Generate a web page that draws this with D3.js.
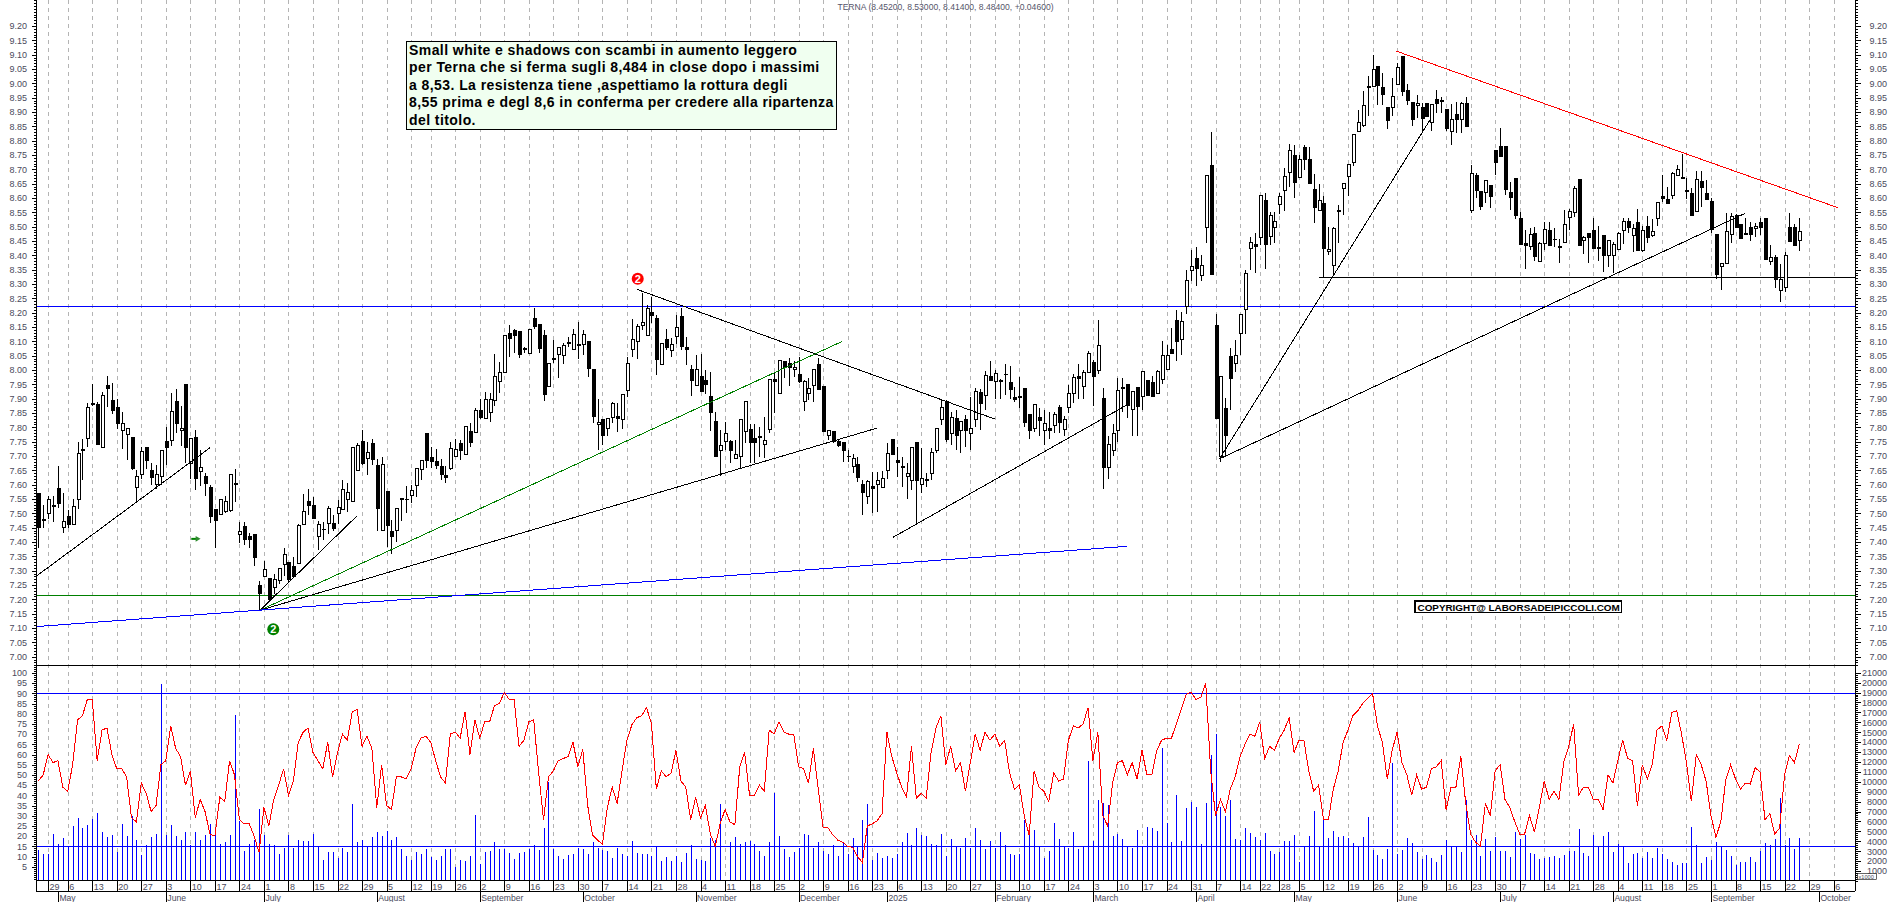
<!DOCTYPE html>
<html>
<head>
<meta charset="utf-8">
<title>TERNA</title>
<script src="https://d3js.org/d3.v7.min.js"></script>
<style>
  html, body { margin: 0; padding: 0; background: #fff; overflow: hidden; }
  svg { display: block; }
  text { font-family: "Liberation Sans", Arial, sans-serif; }
</style>
</head>
<body>
<svg id="chart" width="1890" height="902"></svg>
<script>
// daily bars, 25 Apr 2024 to 25 Sep 2025
const opens = [
7.57,7.475,7.50,7.525,7.585,7.45,7.49,7.46,7.55,7.72,
7.76,7.88,7.88,7.73,7.945,7.895,7.87,7.79,7.775,7.765,
7.59,7.635,7.73,7.65,7.60,7.63,7.75,7.755,7.89,7.79,
7.95,7.675,7.765,7.645,7.63,7.59,7.515,7.495,7.505,7.51,
7.605,7.425,7.455,7.42,7.425,7.25,7.28,7.273,7.242,7.265,
7.32,7.33,7.315,7.326,7.462,7.54,7.526,7.421,7.442,7.463,
7.465,7.498,7.514,7.547,7.541,7.651,7.75,7.691,7.742,7.666,
7.44,7.575,7.435,7.44,7.551,7.547,7.563,7.598,7.652,7.78,
7.695,7.68,7.665,7.633,7.655,7.698,7.742,7.707,7.784,7.783,
7.859,7.831,7.851,7.895,7.96,7.991,8.128,8.139,8.135,8.07,
8.058,8.178,8.159,8.122,7.942,8.035,8.055,8.051,8.097,8.072,
8.09,8.088,8.10,8.002,7.81,7.828,7.797,7.834,7.838,7.829,
7.928,8.072,8.10,8.156,8.119,8.201,8.178,8.02,8.107,8.069,
8.116,8.188,8.079,8.002,7.945,7.979,7.964,7.909,7.819,7.721,
7.75,7.752,7.691,7.698,7.785,7.793,7.76,7.769,7.741,7.794,
7.967,7.919,8.03,8.021,8.002,7.985,7.891,7.919,7.946,8.02,
7.944,7.773,7.784,7.749,7.747,7.70,7.663,7.671,7.602,7.558,
7.592,7.602,7.59,7.649,7.756,7.684,7.66,7.628,7.613,7.748,
7.601,7.619,7.64,7.721,7.828,7.889,7.78,7.832,7.79,7.826,
7.78,7.828,7.922,7.912,7.977,7.96,7.96,7.984,7.957,7.905,
7.906,7.936,7.846,7.797,7.835,7.79,7.797,7.806,7.87,7.793,
7.869,7.919,7.978,7.942,7.992,8.025,7.998,7.899,7.66,7.72,
7.79,7.938,7.948,7.864,7.94,7.907,7.965,7.957,7.919,7.968,
8.003,8.073,8.171,8.107,8.223,8.347,8.39,8.33,8.497,8.712,
8.154,7.70,7.866,8.047,8.021,8.128,8.212,8.423,8.438,8.463,
8.59,8.465,8.498,8.578,8.626,8.689,8.747,8.672,8.777,8.735,
8.63,8.557,8.581,8.414,8.366,8.553,8.634,8.674,8.723,8.831,
8.852,8.987,8.989,9.057,8.987,8.916,8.916,8.997,9.094,8.976,
8.934,8.923,8.916,8.93,8.863,8.944,8.94,8.909,8.831,8.893,
8.874,8.928,8.558,8.68,8.623,8.619,8.645,8.767,8.781,8.778,
8.62,8.667,8.529,8.44,8.43,8.477,8.378,8.442,8.488,8.455,
8.432,8.444,8.533,8.549,8.663,8.453,8.477,8.485,8.426,8.47,
8.399,8.4,8.421,8.487,8.519,8.47,8.515,8.417,8.501,8.47,
8.529,8.606,8.595,8.608,8.678,8.668,8.626,8.614,8.552,8.659,
8.616,8.588,8.471,8.36,8.372,8.473,8.539,8.506,8.471,8.498,
8.495,8.515,8.529,8.378,8.391,8.279,8.287,8.498,8.498,8.452];

const highs = [
7.57,7.53,7.56,7.56,7.665,7.57,7.51,7.55,7.75,7.76,
7.885,7.95,7.89,7.925,7.98,7.955,7.90,7.855,7.795,7.765,
7.65,7.73,7.73,7.675,7.67,7.72,7.80,7.92,7.935,7.875,
7.95,7.76,7.79,7.72,7.64,7.60,7.515,7.55,7.56,7.635,
7.655,7.47,7.47,7.43,7.425,7.265,7.335,7.275,7.29,7.308,
7.38,7.33,7.347,7.463,7.568,7.585,7.558,7.475,7.471,7.526,
7.494,7.547,7.616,7.605,7.733,7.745,7.79,7.75,7.76,7.69,
7.698,7.575,7.477,7.516,7.553,7.595,7.599,7.657,7.685,7.78,
7.733,7.725,7.69,7.665,7.748,7.76,7.755,7.802,7.815,7.866,
7.90,7.922,7.919,8.056,8.029,8.121,8.157,8.144,8.135,8.08,
8.142,8.216,8.159,8.14,8.023,8.105,8.081,8.093,8.116,8.144,
8.166,8.14,8.10,8.002,7.898,7.828,7.83,7.89,7.885,7.915,
8.047,8.177,8.16,8.27,8.227,8.256,8.192,8.093,8.142,8.11,
8.192,8.215,8.115,8.018,8.052,8.056,8.0,7.992,7.855,7.79,
7.818,7.755,7.755,7.828,7.891,7.81,7.81,7.80,7.835,7.968,
7.988,8.033,8.033,8.041,8.03,8.047,7.965,7.971,8.005,8.041,
7.944,7.79,7.784,7.755,7.75,7.72,7.706,7.698,7.616,7.616,
7.645,7.645,7.649,7.744,7.756,7.733,7.698,7.675,7.733,7.748,
7.727,7.64,7.727,7.797,7.896,7.895,7.855,7.86,7.82,7.843,
7.907,7.936,7.933,7.998,8.031,7.999,7.97,8.02,8.014,7.94,
7.975,7.936,7.846,7.881,7.866,7.86,7.855,7.855,7.878,7.838,
7.948,7.987,8.02,8.0,8.066,8.035,8.175,7.936,7.77,7.81,
7.971,7.971,7.948,7.925,7.94,7.994,7.965,7.98,8.0,8.101,
8.087,8.145,8.209,8.201,8.349,8.419,8.428,8.40,8.677,8.829,
8.196,7.977,7.901,8.076,8.105,8.194,8.349,8.465,8.477,8.608,
8.616,8.55,8.55,8.617,8.704,8.787,8.785,8.75,8.785,8.777,
8.683,8.65,8.607,8.498,8.50,8.576,8.651,8.717,8.822,8.907,
8.973,9.024,9.099,9.057,9.035,8.916,9.018,9.07,9.094,8.996,
8.934,8.96,8.93,8.93,8.926,8.977,8.954,8.909,8.928,8.936,
8.936,8.951,8.715,8.686,8.623,8.662,8.645,8.767,8.843,8.778,
8.655,8.667,8.552,8.49,8.494,8.50,8.445,8.517,8.516,8.494,
8.456,8.558,8.562,8.642,8.663,8.467,8.477,8.529,8.502,8.47,
8.452,8.447,8.483,8.532,8.532,8.51,8.562,8.502,8.537,8.526,
8.585,8.679,8.64,8.692,8.715,8.753,8.669,8.634,8.694,8.694,
8.663,8.6,8.471,8.371,8.547,8.547,8.544,8.506,8.53,8.517,
8.512,8.529,8.529,8.436,8.40,8.37,8.412,8.547,8.509,8.53];

const lows = [
7.38,7.45,7.48,7.47,7.52,7.43,7.45,7.46,7.515,7.615,
7.73,7.875,7.74,7.73,7.87,7.845,7.795,7.725,7.685,7.65,
7.54,7.62,7.655,7.60,7.585,7.60,7.67,7.735,7.78,7.735,
7.675,7.62,7.58,7.595,7.56,7.465,7.38,7.495,7.50,7.505,
7.54,7.395,7.39,7.38,7.315,7.163,7.28,7.20,7.22,7.255,
7.28,7.26,7.274,7.326,7.462,7.494,7.481,7.372,7.407,7.428,
7.44,7.463,7.51,7.506,7.541,7.651,7.67,7.634,7.67,7.438,
7.44,7.384,7.358,7.40,7.475,7.50,7.535,7.558,7.616,7.657,
7.657,7.655,7.616,7.605,7.65,7.695,7.686,7.707,7.73,7.78,
7.828,7.831,7.82,7.876,7.919,7.989,8.046,8.058,8.041,8.06,
8.058,8.142,8.06,7.892,7.942,8.026,7.973,8.021,8.08,8.07,
8.04,8.052,7.977,7.816,7.721,7.738,7.77,7.815,7.785,7.794,
7.907,8.047,8.038,8.14,8.117,8.165,7.983,8.02,8.07,8.047,
8.09,8.07,8.018,7.91,7.945,7.923,7.918,7.788,7.698,7.63,
7.72,7.675,7.691,7.654,7.745,7.675,7.677,7.698,7.692,7.78,
7.85,7.916,7.971,7.945,7.977,7.955,7.858,7.895,7.89,7.93,
7.787,7.756,7.745,7.73,7.68,7.68,7.64,7.61,7.494,7.533,
7.50,7.506,7.59,7.619,7.704,7.626,7.593,7.549,7.58,7.463,
7.57,7.593,7.616,7.71,7.808,7.75,7.74,7.72,7.71,7.73,
7.72,7.80,7.79,7.86,7.96,7.9,7.9,7.913,7.9,7.89,
7.866,7.80,7.76,7.785,7.77,7.74,7.76,7.78,7.78,7.77,
7.85,7.884,7.9,7.9,7.99,7.874,7.985,7.585,7.62,7.70,
7.75,7.855,7.832,7.77,7.77,7.86,7.91,7.907,7.919,7.952,
8.003,8.058,8.033,8.052,8.195,8.312,8.293,8.312,8.444,8.333,
7.832,7.68,7.70,7.86,7.994,8.052,8.125,8.349,8.34,8.436,
8.354,8.436,8.442,8.544,8.553,8.64,8.601,8.672,8.696,8.651,
8.514,8.553,8.326,8.40,8.334,8.442,8.541,8.607,8.712,8.831,
8.846,8.886,8.989,8.925,8.925,8.84,8.886,8.997,8.957,8.925,
8.851,8.878,8.835,8.884,8.832,8.895,8.895,8.832,8.785,8.826,
8.826,8.849,8.548,8.599,8.558,8.581,8.566,8.68,8.744,8.61,
8.558,8.526,8.437,8.354,8.418,8.382,8.378,8.419,8.436,8.43,
8.374,8.444,8.488,8.535,8.433,8.405,8.374,8.423,8.38,8.343,
8.36,8.34,8.421,8.44,8.477,8.413,8.415,8.413,8.442,8.465,
8.502,8.587,8.581,8.595,8.678,8.668,8.595,8.54,8.552,8.57,
8.595,8.479,8.316,8.279,8.372,8.444,8.494,8.456,8.471,8.451,
8.465,8.47,8.384,8.365,8.287,8.238,8.273,8.448,8.436,8.414];

const closes = [
7.45,7.48,7.55,7.527,7.533,7.47,7.46,7.525,7.71,7.723,
7.87,7.883,7.74,7.91,7.935,7.86,7.815,7.815,7.795,7.655,
7.63,7.715,7.685,7.625,7.635,7.72,7.73,7.855,7.815,7.795,
7.73,7.76,7.62,7.66,7.605,7.49,7.475,7.55,7.54,7.635,
7.60,7.435,7.41,7.41,7.345,7.219,7.305,7.20,7.268,7.308,
7.357,7.268,7.28,7.456,7.508,7.528,7.481,7.462,7.444,7.518,
7.447,7.519,7.584,7.573,7.729,7.738,7.675,7.714,7.688,7.517,
7.669,7.458,7.421,7.516,7.548,7.549,7.581,7.657,7.685,7.686,
7.68,7.666,7.634,7.626,7.727,7.724,7.721,7.802,7.747,7.86,
7.835,7.898,7.898,7.979,7.991,8.121,8.11,8.12,8.054,8.076,
8.142,8.151,8.076,7.915,8.023,8.04,8.079,8.086,8.091,8.123,
8.086,8.123,8.005,7.837,7.817,7.771,7.83,7.884,7.83,7.915,
8.023,8.107,8.152,8.165,8.215,8.19,8.035,8.093,8.078,8.09,
8.149,8.081,8.07,7.963,8.002,7.925,7.95,7.851,7.698,7.737,
7.779,7.719,7.705,7.828,7.891,7.747,7.747,7.765,7.753,7.968,
7.959,8.033,8.008,8.009,8.009,7.959,7.96,7.935,8.002,7.933,
7.787,7.788,7.752,7.736,7.718,7.698,7.69,7.625,7.572,7.61,
7.587,7.616,7.621,7.709,7.704,7.679,7.662,7.64,7.73,7.614,
7.622,7.614,7.713,7.797,7.869,7.756,7.834,7.77,7.82,7.79,
7.797,7.925,7.884,7.982,7.963,7.989,7.965,7.986,7.932,7.898,
7.904,7.816,7.79,7.881,7.823,7.814,7.79,7.845,7.816,7.828,
7.919,7.975,7.97,7.992,8.058,7.977,8.087,7.66,7.74,7.78,
7.93,7.936,7.876,7.925,7.872,7.994,7.91,7.907,7.994,8.049,
8.051,8.058,8.099,8.17,8.313,8.362,8.354,8.365,8.677,8.333,
7.832,7.977,7.77,7.97,8.051,8.194,8.337,8.444,8.43,8.608,
8.437,8.54,8.519,8.605,8.675,8.765,8.654,8.735,8.735,8.651,
8.566,8.592,8.423,8.421,8.494,8.556,8.651,8.717,8.822,8.864,
8.923,8.99,9.049,8.992,8.962,8.87,8.955,9.056,8.971,8.94,
8.873,8.93,8.877,8.884,8.926,8.93,8.938,8.842,8.874,8.874,
8.93,8.849,8.686,8.626,8.572,8.662,8.605,8.723,8.744,8.628,
8.601,8.539,8.437,8.436,8.471,8.395,8.442,8.491,8.436,8.457,
8.428,8.509,8.552,8.634,8.433,8.463,8.462,8.423,8.424,8.399,
8.452,8.437,8.477,8.517,8.498,8.494,8.417,8.487,8.462,8.483,
8.585,8.597,8.581,8.686,8.70,8.67,8.624,8.54,8.665,8.636,
8.595,8.491,8.333,8.371,8.483,8.535,8.497,8.459,8.477,8.471,
8.502,8.497,8.384,8.393,8.315,8.317,8.398,8.448,8.436,8.484];

const oscillator = [
47,50,60,56,57,44,42,55,77,79,
87,87,57,72,73,60,53,53,49,29,
27,46,41,32,35,55,57,74,63,59,
45,52,29,38,32,21,20,39,37,57,
50,28,26,26,20,12,34,25,38,45,
53,40,47,66,71,73,61,57,53,66,
49,61,70,67,81,82,64,69,63,34,
55,35,33,49,49,48,53,63,68,69,
66,57,49,46,70,71,68,81,60,77,
68,76,76,84,85,90.5,87,87,64,67,
76,77,51,28,49,52,57,58,59,66,
54,62.5,35,20.5,18,16,34,44,36,52,
67,74.5,78,79,83,75,43,52,49,51,
62,47,44,28,39,29,35,21,15,26,
33,27,25.5,54,61,40,40,45,42,72,
70,76,71,70,70,54,53,46,63,43,
24,24,20.5,18,17,15,14.5,10,7,25,
26,27.5,31,71,59,51,44,39,64,38.5,
41,38.5,61,73,79,55,64,52,56,42,
56,70,62,71,67,70,64,67,51,43,
45,30,20.5,52,44,42,37,51,47,48,
67,74,73,75,83,57,71,30,25,46,
56,57,50,56,48,62,50,50,62,67,
68,68,75,82,89.5,90.5,87,88,95,52,
30,38,32,43,49,59,65,70,69,76,
58,64,62,68,72,78,61,67,67,52,
42,45,28,28,43,52,66,72,79,81.5,
85,87.5,90,74,66,48,62,71,56,50,
40,50,43,44,53,54,57,33,44,44,
59,36,21,17,15,36,30,52,55,38,
34,27,21,21,30,22,34,47,38,42,
38,56.5,64,75,40,44,44,38,38,33,
50,46,57,67,58,57,35,55,48,55,
72,74,67,80.5,81.5,70,56,37,60,55,
47,30,19.5,27,47.5,55,48,43,46,45.5,
53.5,51.5,28,31,21,24,50,59.5,56,65];

// volume in thousands
const volume = [
3.1,2.7,2.7,4.7,3.7,4.3,3.5,5.5,6.3,5.3,
5.6,6.2,6.8,4.9,4.4,4.6,2.9,5.7,4.5,6.5,
4.1,2.6,3.6,4.4,4.7,19.9,4.6,5.6,4.5,4.1,
4.9,3.6,4.9,4.1,4.6,5.7,5.4,3.7,3.9,4.6,
16.7,6,3,3.7,4.1,7.3,4.6,3.7,3.6,2.7,
3.3,4.6,3.3,4.1,4,4,4.7,3.5,2.1,2.9,
2.9,2.3,3.3,2.9,7.8,3.9,4.1,3.5,4.4,4.9,
4.5,5,4.1,4.4,3.2,2.5,2.1,2.9,2.7,3.2,
2.4,2.1,2.5,3.2,3.2,1.4,2.1,2,2.5,6.6,
1.7,2.9,3,3.9,3.2,3.2,2.8,2.2,2.8,2.9,
3.2,3.6,3.1,5.3,10,3.2,2.5,2.2,2.6,2.7,
3.3,3.2,2.7,3.9,3.3,3.1,3,2.3,3.3,2.7,
2.5,4,2.8,2.7,2.7,2.5,3.5,2,2.4,2,
2.5,1.9,2.8,3.6,2.2,2.1,2,4.3,4.1,7.8,
0,3.9,4.4,3.7,3.9,4,3.7,3,2.5,3.9,
8.9,4.5,3.2,2.4,2.9,3.3,4.7,4.6,3.3,3.9,
3,2.7,3.6,2.5,3.9,2.7,4.3,3.4,6.1,7.8,
2.1,2.8,2.3,2.5,2.3,2.7,3.9,4.8,3.6,5.3,
4.6,4.5,3.7,3.6,4.7,2.5,4.2,3.5,3.3,4.3,
3.3,5.3,4.1,3.2,4,3.3,4.9,3.6,2.7,2.6,
2.7,6.1,5.5,5.1,3.5,2.3,3,5.8,4.2,3.5,
3.3,4.9,3.2,3.5,12.1,4,8.2,7.9,7.7,4.5,
4.7,4.2,3.5,3.3,5.1,3.5,5.4,5.3,5,13.4,
5.8,3.9,8.7,4,7.4,8,7.5,3.7,7.9,12.7,
14.8,7.5,6.5,8.2,4.2,4.1,5.3,4.8,4.4,4.1,
4.8,3,2.7,2.9,4,4,4.6,1.9,3.5,4.5,
7.1,3.5,6.2,4.3,5,4.4,4.5,4.3,3.8,3.5,
4.4,6.4,3.1,2.6,2.2,3.2,11.9,2.7,3.1,4.3,
3.8,2.9,2.2,2.6,2.3,1.9,2.6,4.1,3.5,3.5,
2.9,8.2,4.1,4.6,2.5,4.2,3,4.4,3,3,
2.4,4.9,4.2,4.6,2.8,2.7,2.2,2.35,2.4,2.5,
2.3,2.6,3,3,5.2,2.8,2.5,4.6,3.5,4.5,
4.9,2.9,3.7,3.4,1.8,2.7,2.8,2.3,2.9,2.3,
3.3,2.7,2.2,1.9,1.6,1.8,1.8,5.4,3.6,1.8,
2.4,2.1,3.9,3.5,3.1,2.5,1.6,1.9,1.9,2.4,
1.9,3,3.8,3.6,4.2,8.4,3.6,4.3,3.2,4.3];

// market holidays, and the one week the chart leaves unmarked
const holidays = ["2024-05-01","2024-08-15","2024-12-24","2024-12-25","2024-12-26","2024-12-31","2025-01-01","2025-04-18","2025-04-21","2025-05-01","2025-08-15"];
const unmarkedWeeks = ["2024-12-30"];
const monthNames = ["2025","February","March","April","May","June","July","August","September","October","November","December"];

// trend lines as [bar index, price] pairs
const trendLines = [
  { color: "#000", from: [-0.5, 7.28], to: [35, 7.729] },
  { color: "#000", from: [45.2, 7.162], to: [64.9, 7.49] },
  { color: "#008000", from: [45.2, 7.162], to: [163.9, 8.10] },
  { color: "#000", from: [45.2, 7.162], to: [170.9, 7.797] },
  { color: "#0000ff", from: [-0.5, 7.105], to: [222, 7.385] },
  { color: "#000", from: [122.1, 8.281], to: [195, 7.829] },
  { color: "#000", from: [174.2, 7.416], to: [221.9, 7.878] },
  { color: "#000", from: [240.8, 7.69], to: [283.7, 8.872] },
  { color: "#000", from: [240.8, 7.69], to: [348, 8.547] },
  { color: "#ff0000", from: [276.9, 9.112], to: [366.9, 8.566] }
];
const priceLevels = [
  { color: "#0000ff", price: 8.222, fromBar: -0.5 },
  { color: "#008000", price: 7.216, fromBar: -0.5 },
  { color: "#000", price: 8.323, fromBar: 261 }
];
const oscLevels = [90, 15];

const noteLines = [
  "Small white e shadows con scambi in aumento leggero",
  "per Terna che si ferma sugli 8,484 in close dopo i massimi",
  "a 8,53. La resistenza tiene ,aspettiamo la rottura degli",
  "8,55 prima e degl 8,6 in conferma per credere alla ripartenza",
  "del titolo."
];
const titleText = "TERNA (8.45200, 8.53000, 8.41400, 8.48400, +0.04600)";
const copyrightText = "COPYRIGHT@ LABORSADEIPICCOLI.COM";

const leftX = 36, rightX = 1855, lastBarX = 1799.3, firstBarX = 38.3;
const axisText = "#4a4a5c";

const bars = opens.map((o, i) => ({ i, o, h: highs[i], l: lows[i], c: closes[i], osc: oscillator[i], vol: volume[i] }));

const x = d3.scaleLinear().domain([0, bars.length - 1]).range([firstBarX, lastBarX]);
const yPrice = d3.scaleLinear().domain([7.0, 9.2]).range([656.7, 26]);
const yOsc = d3.scaleLinear().domain([15, 90]).range([846.3, 693.3]);
const yVol = d3.scaleLinear().domain([0, 21]).range([880.9, 672.7]);

const pix = v => Math.round(v) + 0.5;

// trading calendar, running a little past the last bar for the empty right edge
const fmt = d3.timeFormat("%Y-%m-%d");
const calendar = d3.timeDay.range(new Date(2024, 3, 25), new Date(2025, 9, 9))
  .filter(d => d.getDay() > 0 && d.getDay() < 6 && !holidays.includes(fmt(d)));

const weekStarts = [], monthStarts = [];
calendar.forEach((d, i) => {
  if (i === 0) return;
  const prev = calendar[i - 1];
  if (d3.timeMonday.floor(d).getTime() !== d3.timeMonday.floor(prev).getTime() && !unmarkedWeeks.includes(fmt(d))) {
    weekStarts.push({ i, label: d.getDate() });
  }
  if (d.getMonth() !== prev.getMonth()) {
    monthStarts.push({ i, label: d.getMonth() === 0 ? monthNames[0] : monthNames[d.getMonth()] });
  }
});

const svg = d3.select("#chart");

// weekly grid
svg.append("g").selectAll("line").data(weekStarts).join("line")
  .attr("x1", d => pix(x(d.i))).attr("x2", d => pix(x(d.i)))
  .attr("y1", 0).attr("y2", 880)
  .attr("stroke", "#b4b4b4").attr("stroke-dasharray", "4,4")
  .attr("shape-rendering", "crispEdges");

// volume bars
svg.append("g").selectAll("line").data(bars.filter(d => d.vol > 0)).join("line")
  .attr("x1", d => pix(x(d.i))).attr("x2", d => pix(x(d.i)))
  .attr("y1", yVol(0)).attr("y2", d => yVol(d.vol))
  .attr("stroke", "#0000ff").attr("shape-rendering", "crispEdges");

// horizontal levels
svg.append("g").selectAll("line").data(priceLevels).join("line")
  .attr("x1", d => Math.max(leftX, x(d.fromBar))).attr("x2", rightX)
  .attr("y1", d => pix(yPrice(d.price))).attr("y2", d => pix(yPrice(d.price)))
  .attr("stroke", d => d.color).attr("stroke-width", 1)
  .attr("shape-rendering", "crispEdges");

svg.append("g").selectAll("line").data(oscLevels).join("line")
  .attr("x1", leftX).attr("x2", rightX)
  .attr("y1", d => pix(yOsc(d))).attr("y2", d => pix(yOsc(d)))
  .attr("stroke", "#0000ff").attr("shape-rendering", "crispEdges");

// candles
const candles = svg.append("g").selectAll("g").data(bars).join("g");
candles.append("line")
  .attr("x1", d => pix(x(d.i))).attr("x2", d => pix(x(d.i)))
  .attr("y1", d => yPrice(d.h)).attr("y2", d => yPrice(d.l))
  .attr("stroke", "#000").attr("shape-rendering", "crispEdges");
candles.append("rect")
  .attr("x", d => pix(x(d.i)) - 1.5)
  .attr("width", 3)
  .attr("y", d => yPrice(Math.max(d.o, d.c)))
  .attr("height", d => Math.abs(yPrice(d.o) - yPrice(d.c)))
  .attr("fill", d => d.c >= d.o ? "#fff" : "#000")
  .attr("stroke", "#000").attr("shape-rendering", "crispEdges");

// trend lines
svg.append("g").selectAll("line").data(trendLines).join("line")
  .attr("x1", d => Math.max(leftX, x(d.from[0]))).attr("y1", d => yPrice(d.from[1]))
  .attr("x2", d => x(d.to[0])).attr("y2", d => yPrice(d.to[1]))
  .attr("stroke", d => d.color).attr("stroke-width", 1)
  .attr("shape-rendering", "crispEdges");

// oscillator
svg.append("path").datum(bars)
  .attr("d", d3.line().x(d => x(d.i)).y(d => yOsc(d.osc)))
  .attr("fill", "none").attr("stroke", "#ff0000").attr("stroke-width", 1)
  .attr("shape-rendering", "crispEdges");

// pane separators and date rows
const rules = [[leftX, rightX, 665.5, 1.4], [leftX, rightX, 880.5, 1], [leftX, rightX, 891.5, 1]];
svg.append("g").selectAll("line").data(rules).join("line")
  .attr("x1", d => d[0]).attr("x2", d => d[1]).attr("y1", d => d[2]).attr("y2", d => d[2])
  .attr("stroke", "#000").attr("stroke-width", d => d[3]).attr("shape-rendering", "crispEdges");

// axis helper: major ticks with labels, minor ticks without
function valueAxis(scale, side, majors, minors, format) {
  const at = side === "left" ? leftX : rightX;
  const make = side === "left" ? d3.axisLeft : d3.axisRight;
  const minor = svg.append("g").attr("transform", `translate(${at + 0.5},0)`)
    .call(make(scale).tickValues(minors).tickSize(2.5).tickFormat(""));
  const major = svg.append("g").attr("transform", `translate(${at + 0.5},0)`)
    .call(make(scale).tickValues(majors).tickSize(5).tickFormat(format));
  [minor, major].forEach(g => {
    g.select(".domain").remove();
    g.selectAll("line").attr("stroke", "#000").attr("shape-rendering", "crispEdges");
  });
  major.selectAll("text")
    .attr("font-size", 9).attr("fill", axisText)
    .attr("text-anchor", "end")
    .attr("x", side === "left" ? -9.5 : 1887 - at - 0.5);
}

const priceMajors = d3.range(700, 925, 5).map(v => v / 100);
const priceMinors = d3.range(697, 930, 1).map(v => v / 100);
valueAxis(yPrice, "left", priceMajors, priceMinors, d3.format(".2f"));
valueAxis(yPrice, "right", priceMajors, priceMinors, d3.format(".2f"));

const oscMajors = d3.range(5, 105, 5);
const oscMinors = d3.range(-1, 104, 1);
valueAxis(yOsc, "left", oscMajors, oscMinors, d3.format("d"));

const volMajors = d3.range(1, 22, 1);
const volMinors = d3.range(0, 105, 1).map(v => v / 5);
valueAxis(yVol, "right", volMajors, volMinors, v => String(v * 1000));

svg.append("g").selectAll("line").data([leftX, rightX]).join("line")
  .attr("x1", d => d + 0.5).attr("x2", d => d + 0.5).attr("y1", 0).attr("y2", 891)
  .attr("stroke", "#000").attr("shape-rendering", "crispEdges");

// x1000 tag
svg.append("rect").attr("x", 1857.5).attr("y", 873.5).attr("width", 19).attr("height", 6)
  .attr("fill", "#fff").attr("stroke", "#000").attr("stroke-width", 0.6);
svg.append("text").attr("x", 1858.5).attr("y", 878.8).attr("font-size", 5.6).attr("fill", axisText).text("x1000");

// week and month rows
const weekRow = svg.append("g").selectAll("g").data(weekStarts).join("g");
weekRow.append("line")
  .attr("x1", d => pix(x(d.i))).attr("x2", d => pix(x(d.i))).attr("y1", 880).attr("y2", 891)
  .attr("stroke", "#000").attr("shape-rendering", "crispEdges");
weekRow.append("text")
  .attr("x", d => x(d.i) + 1.5).attr("y", 889.5)
  .attr("font-size", 9).attr("fill", axisText).text(d => d.label);

const monthRow = svg.append("g").selectAll("g").data(monthStarts).join("g");
monthRow.append("line")
  .attr("x1", d => pix(x(d.i))).attr("x2", d => pix(x(d.i))).attr("y1", 891).attr("y2", 902)
  .attr("stroke", "#000").attr("shape-rendering", "crispEdges");
monthRow.append("text")
  .attr("x", d => x(d.i) + 1.5).attr("y", 900.5)
  .attr("font-size", 8.6).attr("fill", axisText).text(d => d.label);

// numbered markers
const markers = [
  { bar: 122.2, price: 8.318, color: "#ff0000", label: "2" },
  { bar: 47.9, price: 7.096, color: "#008000", label: "2" }
];
const markerG = svg.append("g").selectAll("g").data(markers).join("g")
  .attr("transform", d => `translate(${x(d.bar)},${yPrice(d.price)})`);
markerG.append("circle").attr("r", 6).attr("fill", d => d.color);
markerG.append("text").attr("text-anchor", "middle").attr("y", 3.8)
  .attr("font-size", 11).attr("font-weight", "bold").attr("fill", "#fff").text(d => d.label);

// small green arrow
const arrowAt = { bar: 32, price: 7.411 };
const arrow = svg.append("g").attr("transform", `translate(${x(arrowAt.bar)},${yPrice(arrowAt.price)})`);
arrow.append("rect").attr("x", -4).attr("y", -1).attr("width", 5).attr("height", 2).attr("fill", "#008000");
arrow.append("path").attr("d", d3.symbol(d3.symbolTriangle, 14)).attr("transform", "translate(2,0) rotate(90)").attr("fill", "#2e8b2e");

// title
svg.append("text").attr("x", 945.5).attr("y", 10).attr("text-anchor", "middle")
  .attr("font-size", 8.6).attr("fill", "#55556a").text(titleText);

// comment box
const noteBox = svg.append("g");
noteBox.append("rect").attr("x", 406.5).attr("y", 41.5).attr("width", 430).attr("height", 88)
  .attr("fill", "#f0fff0").attr("stroke", "#000").attr("stroke-width", 1.2).attr("shape-rendering", "crispEdges");
noteBox.selectAll("text").data(noteLines).join("text")
  .attr("x", 409).attr("y", (d, i) => 55 + i * 17.4)
  .attr("font-size", 14).attr("font-weight", "bold").attr("letter-spacing", 0.43).attr("fill", "#000").text(d => d);

// copyright box
const copyBox = svg.append("g");
copyBox.append("rect").attr("x", 1415).attr("y", 601).attr("width", 206.5).attr("height", 11.5)
  .attr("fill", "#fff").attr("stroke", "#000").attr("stroke-width", 1.6).attr("shape-rendering", "crispEdges");
copyBox.append("text").attr("x", 1417.5).attr("y", 610.6).attr("font-size", 9.9).attr("font-weight", "bold")
  .attr("fill", "#000").text(copyrightText);
</script>
</body>
</html>
